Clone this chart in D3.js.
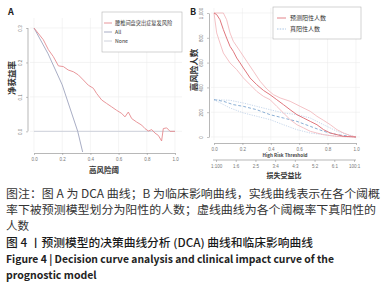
<!DOCTYPE html>
<html>
<head>
<meta charset="utf-8">
<script src="https://cdn.jsdelivr.net/npm/d3@7"></script>
<style>
  body { margin: 0; background: #fff; }
  svg { display: block; font-family: "Noto Sans CJK SC", "Noto Sans", sans-serif; }
</style>
</head>
<body>
<div id="chart"></div>
<script>
// DATA - panel A (DCA)
const modelThreshold = [0, 0.066, 0.102, 0.137, 0.173, 0.208, 0.243, 0.279, 0.314, 0.35, 0.385, 0.421, 0.444, 0.48, 0.515, 0.551, 0.586, 0.622, 0.645, 0.669, 0.693, 0.728, 0.764, 0.787, 0.811, 0.835, 0.858, 0.882, 0.905, 0.917, 0.941, 0.965, 1.0]
const modelNetBenefit = [0.3, 0.266, 0.237, 0.217, 0.19, 0.188, 0.178, 0.173, 0.164, 0.149, 0.134, 0.125, 0.11, 0.091, 0.081, 0.071, 0.061, 0.052, 0.042, 0.056, 0.037, 0.027, 0.018, 0.008, 0.001, 0.005, -0.005, -0.012, -0.028, 0.008, 0.01, 0, 0]
const allThreshold = [0, 0.1, 0.2, 0.31, 0.345]
const allNetBenefit = [0.3, 0.225, 0.135, 0.0, -0.06]
const noneThreshold = [0, 1]
const noneNetBenefit = [0, 0]
const legendA = ["腰椎间盘突出症复发风险", "All", "None"]
const ticksA_x = [0, 0.2, 0.4, 0.6, 0.8, 1.0]
const ticksA_y = [0, 0.1, 0.2, 0.3]

// DATA - panel B (clinical impact)
const hrMidT = [0, 0.019, 0.042, 0.066, 0.089, 0.113, 0.136, 0.16, 0.184, 0.207, 0.231, 0.254, 0.301, 0.348, 0.395, 0.442, 0.489, 0.536, 0.584, 0.631, 0.678, 0.725, 0.772, 0.819, 0.866, 0.913, 0.96, 1]
const hrMid = [1000, 987, 946, 866, 798, 731, 691, 637, 597, 556, 516, 476, 422, 376, 341, 301, 261, 220, 180, 153, 126, 99, 59, 32, 19, 5, 3, 0]
const hrHighT = [0, 0.066, 0.089, 0.113, 0.136, 0.184, 0.231, 0.278, 0.325, 0.372, 0.419, 0.466, 0.536, 0.607, 0.678, 0.725, 0.772, 0.819, 0.866, 0.913, 0.96, 1]
const hrHigh = [1000, 1000, 946, 839, 772, 691, 610, 530, 449, 387, 341, 315, 288, 247, 207, 167, 134, 99, 59, 32, 11, 0]
const hrLowT = [0, 0.019, 0.042, 0.066, 0.113, 0.16, 0.207, 0.254, 0.301, 0.348, 0.395, 0.442, 0.489, 0.536, 0.584, 0.631, 0.678, 0.725, 0.772, 0.819, 0.866, 1]
const hrLow = [1000, 839, 758, 677, 597, 543, 476, 422, 368, 328, 301, 247, 194, 140, 99, 73, 46, 32, 19, 11, 5, 0]
const tpMidT = [0, 0.066, 0.136, 0.207, 0.301, 0.395, 0.489, 0.584, 0.678, 0.772, 0.866, 1]
const tpMid = [301, 288, 261, 247, 220, 180, 153, 126, 86, 46, 19, 0]
const tpHighT = [0, 0.113, 0.207, 0.301, 0.395, 0.489, 0.584, 0.678, 0.772, 0.866, 1]
const tpHigh = [301, 296, 274, 247, 220, 194, 180, 153, 99, 46, 0]
const tpLow = [301, 234, 194, 167, 140, 99, 59, 32, 19, 5, 0]
const legendB = ["预测阳性人数", "真阳性人数"]
const ticksB_x = [0, 0.2, 0.4, 0.6, 0.8, 1.0]
const ticksB_y = [0, 200, 400, 600, 800, 1000]
const costBenefitLabels = ["1:100", "1:6", "2:5", "3:4", "4:3", "5:2", "6:1", "100:1"]

const caption = [
  "图注：图 A 为 DCA 曲线；B 为临床影响曲线，实线曲线表示在各个阈概",
  "率下被预测模型划分为阳性的人数；虚线曲线为各个阈概率下真阳性的",
  "人数",
]

const zip = (xs, ys) => xs.map((x, i) => [x, ys[i]])

const svg = d3.select("#chart").append("svg")
  .attr("width", 381)
  .attr("height", 285)

const tickColor = "#777"
const gridColor = "#ececec"

// ---------- PANEL A ----------
const xA = d3.scaleLinear().domain([0, 1]).range([34, 175])
const yA = d3.scaleLinear().domain([-0.06, 0.3]).range([152, 28])

const gA = svg.append("g")
gA.append("g").selectAll("line").data(ticksA_x).join("line")
  .attr("x1", d => xA(d)).attr("x2", d => xA(d))
  .attr("y1", 18).attr("y2", 152)
  .attr("stroke", gridColor).attr("stroke-width", 0.6)
gA.append("g").selectAll("line").data(ticksA_y).join("line")
  .attr("x1", 30).attr("x2", 182)
  .attr("y1", d => yA(d)).attr("y2", d => yA(d))
  .attr("stroke", gridColor).attr("stroke-width", 0.6)

const clipA = svg.append("clipPath").attr("id", "clipA")
clipA.append("rect").attr("x", 30).attr("y", 18).attr("width", 152).attr("height", 134)

const lineA = d3.line().x(d => xA(d[0])).y(d => yA(d[1]))
const plotA = gA.append("g").attr("clip-path", "url(#clipA)")
plotA.append("path").datum(zip(noneThreshold, noneNetBenefit))
  .attr("d", lineA).attr("fill", "none").attr("stroke", "#c9cdd8").attr("stroke-width", 0.9)
plotA.append("path").datum(zip(allThreshold, allNetBenefit))
  .attr("d", lineA).attr("fill", "none").attr("stroke", "#9ea4bd").attr("stroke-width", 0.9)
plotA.append("path").datum(zip(modelThreshold, modelNetBenefit))
  .attr("d", lineA).attr("fill", "none").attr("stroke", "#e58a8f").attr("stroke-width", 0.9)

const xAxisA = gA.append("g")
  .attr("transform", "translate(0,153)")
  .call(d3.axisBottom(xA).tickValues(ticksA_x).tickFormat(d3.format(".1f")).tickSize(2).tickSizeOuter(0))
const yAxisA = gA.append("g")
  .attr("transform", "translate(28,0)")
  .call(d3.axisLeft(yA).tickValues(ticksA_y).tickFormat(d3.format(".1f")).tickSize(2).tickSizeOuter(0))

svg.selectAll(".domain").attr("stroke", "#888").attr("stroke-width", 0.6)
yAxisA.select(".domain").attr("d", `M0,${yA(0.3)}V${yA(0)}`)
;[xAxisA, yAxisA].forEach(ax => {
  ax.selectAll(".tick line").attr("stroke", "#888").attr("stroke-width", 0.5)
  ax.selectAll("text").attr("font-size", 4.5).attr("fill", tickColor)
})
yAxisA.selectAll(".tick text")
  .attr("transform", "rotate(-90)")
  .attr("x", 0).attr("y", -6).attr("dy", 0)
  .attr("text-anchor", "middle")

// legend A
const legA = gA.append("g")
legA.append("rect").attr("x", 102).attr("y", 12).attr("width", 80).attr("height", 40)
  .attr("fill", "#fff").attr("stroke", "#b5b5b5").attr("stroke-width", 0.6)
const legColorsA = ["#e58a8f", "#9ea4bd", "#c9cdd8"]
legendA.forEach((t, i) => {
  const y = 23 + i * 9
  legA.append("line").attr("x1", 104).attr("x2", 112).attr("y1", y).attr("y2", y)
    .attr("stroke", legColorsA[i]).attr("stroke-width", 0.9)
  legA.append("text").attr("x", 115).attr("y", y).attr("dy", "0.35em")
    .attr("font-size", 5.2).attr("fill", "#333").text(t)
})

gA.append("text").attr("x", 8).attr("y", 15).attr("font-size", 9).attr("font-weight", "bold")
  .attr("fill", "#222").text("A")
gA.append("text").attr("transform", "translate(15,78) rotate(-90)")
  .attr("text-anchor", "middle").attr("font-size", 8.5).attr("font-weight", "bold")
  .attr("fill", "#333").text("净获益率")
gA.append("text").attr("x", 104).attr("y", 173).attr("text-anchor", "middle")
  .attr("font-size", 7.5).attr("font-weight", "bold").attr("fill", "#333").text("高风险阈")

// ---------- PANEL B ----------
const xB = d3.scaleLinear().domain([0, 1]).range([214, 356])
const yB = d3.scaleLinear().domain([0, 1000]).range([137, 13])

const gB = svg.append("g")
gB.append("g").selectAll("line").data(ticksB_x).join("line")
  .attr("x1", d => xB(d)).attr("x2", d => xB(d))
  .attr("y1", 8).attr("y2", 140)
  .attr("stroke", gridColor).attr("stroke-width", 0.6)
gB.append("g").selectAll("line").data(ticksB_y).join("line")
  .attr("x1", 211).attr("x2", 360)
  .attr("y1", d => yB(d)).attr("y2", d => yB(d))
  .attr("stroke", gridColor).attr("stroke-width", 0.6)

const lineB = d3.line().x(d => xB(d[0])).y(d => yB(d[1]))
const seriesB = [
  { pts: zip(tpHighT, tpHigh), color: "#b9cde6", width: 0.8, dash: "1.2,1.2" },
  { pts: zip(tpHighT, tpLow), color: "#b9cde6", width: 0.8, dash: "1.2,1.2" },
  { pts: zip(tpMidT, tpMid), color: "#7ea6cf", width: 0.9, dash: "3,2" },
  { pts: zip(hrHighT, hrHigh), color: "#f1b3b7", width: 0.8, dash: null },
  { pts: zip(hrLowT, hrLow), color: "#f1b3b7", width: 0.8, dash: null },
  { pts: zip(hrMidT, hrMid), color: "#e0767d", width: 1, dash: null },
]
gB.append("g").selectAll("path").data(seriesB).join("path")
  .attr("d", d => lineB(d.pts))
  .attr("fill", "none")
  .attr("stroke", d => d.color)
  .attr("stroke-width", d => d.width)
  .attr("stroke-dasharray", d => d.dash)

const xAxisB = gB.append("g")
  .attr("transform", "translate(0,143)")
  .call(d3.axisBottom(xB).tickValues(ticksB_x).tickFormat(d3.format(".1f")).tickSize(2).tickSizeOuter(0))
const yAxisB = gB.append("g")
  .attr("transform", "translate(209,0)")
  .call(d3.axisLeft(yB).tickValues(ticksB_y).tickSize(2).tickSizeOuter(0))

// cost:benefit axis
const cbScale = d3.scalePoint().domain(costBenefitLabels).range([216, 354])
const cbAxis = gB.append("g")
  .attr("transform", "translate(0,160)")
  .call(d3.axisBottom(cbScale).tickSize(2).tickSizeOuter(0))

;[xAxisB, yAxisB, cbAxis].forEach(ax => {
  ax.select(".domain").attr("stroke", "#888").attr("stroke-width", 0.6)
  ax.selectAll(".tick line").attr("stroke", "#888").attr("stroke-width", 0.5)
  ax.selectAll("text").attr("font-size", 4.5).attr("fill", tickColor)
})
cbAxis.select(".domain").attr("d", "M213,0H356")
yAxisB.selectAll(".tick text")
  .attr("transform", "rotate(-90)")
  .attr("x", 0).attr("y", -6).attr("dy", 0)
  .attr("text-anchor", "middle")

gB.append("text").attr("x", 285).attr("y", 156.5).attr("text-anchor", "middle")
  .attr("font-size", 4.6).attr("font-weight", "bold").attr("fill", "#444").text("High Risk Threshold")

// legend B
const legB = gB.append("g")
legB.append("rect").attr("x", 273).attr("y", 7).attr("width", 88).attr("height", 32)
  .attr("fill", "#fff").attr("stroke", "#b5b5b5").attr("stroke-width", 0.6)
const legStyleB = [
  { color: "#e0767d", dash: null },
  { color: "#9ebde0", dash: "1.5,1.2" },
]
legendB.forEach((t, i) => {
  const y = 18 + i * 11
  legB.append("line").attr("x1", 277).attr("x2", 286).attr("y1", y).attr("y2", y)
    .attr("stroke", legStyleB[i].color).attr("stroke-width", 0.9)
    .attr("stroke-dasharray", legStyleB[i].dash)
  legB.append("text").attr("x", 290).attr("y", y).attr("dy", "0.35em")
    .attr("font-size", 6).attr("fill", "#333").text(t)
})

gB.append("text").attr("x", 190).attr("y", 15).attr("font-size", 9).attr("font-weight", "bold")
  .attr("fill", "#222").text("B")
gB.append("text").attr("transform", "translate(197,70) rotate(-90)")
  .attr("text-anchor", "middle").attr("font-size", 8.5).attr("font-weight", "bold")
  .attr("fill", "#333").text("高风险人数")
gB.append("text").attr("x", 284).attr("y", 178).attr("text-anchor", "middle")
  .attr("font-size", 7).attr("font-weight", "bold").attr("fill", "#333").text("损失受益比")

// ---------- CAPTION ----------
const capG = svg.append("g")
const capLines = [
  { text: caption[0], y: 198, size: 11.5, weight: "normal", len: 374, color: "#333" },
  { text: caption[1], y: 214, size: 11.5, weight: "normal", len: 370, color: "#333" },
  { text: caption[2], y: 230, size: 11.5, weight: "normal", len: null, color: "#333" },
  { text: "图 4 丨预测模型的决策曲线分析 (DCA) 曲线和临床影响曲线", y: 247, size: 11, weight: 500, len: 307, color: "#1a1a1a" },
  { text: "Figure 4  |  Decision curve analysis and clinical impact curve of the", y: 263, size: 10.5, weight: "bold", len: 328, color: "#222" },
  { text: "prognostic model", y: 279, size: 10.5, weight: "bold", len: null, color: "#222" },
]
capLines.forEach(l => {
  const t = capG.append("text").attr("x", 6).attr("y", l.y)
    .attr("font-size", l.size).attr("font-weight", l.weight).attr("fill", l.color)
    .text(l.text)
  if (l.len) t.attr("textLength", l.len).attr("lengthAdjust", "spacingAndGlyphs")
})
</script>
</body>
</html>
